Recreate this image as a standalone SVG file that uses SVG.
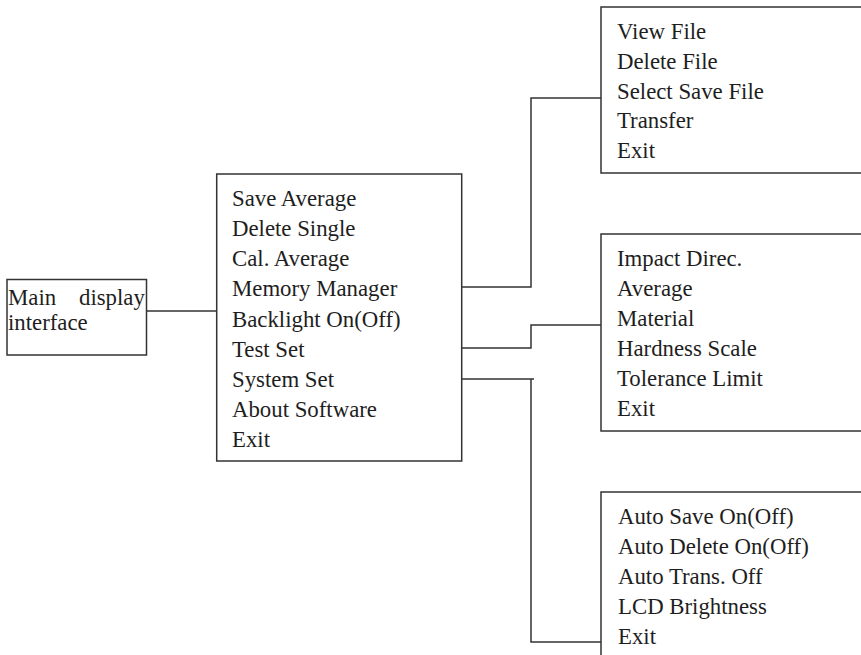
<svg xmlns="http://www.w3.org/2000/svg" width="861" height="655" viewBox="0 0 861 655">
<style>
.box{fill:#fff;stroke:#333;stroke-width:1.5}
.c{fill:none;stroke:#333;stroke-width:1.5}
text{font-family:"Liberation Serif","Times New Roman",serif;font-size:22.8px;fill:#1e1e1e}
</style>
<rect width="861" height="655" fill="#fff"/>
<g id="connectors">
<path class="c" d="M146.5 311H216.7"/>
<path class="c" d="M461.7 287H531V98H601"/>
<path class="c" d="M461.7 348H531V325H601"/>
<path class="c" d="M461.7 379H534M531 379V642H601"/>
</g>
<g id="main">
<rect class="box" x="7" y="279.5" width="139.5" height="75.5"/>
<text x="8" y="305">Main <tspan x="79">display</tspan></text>
<text x="8" y="330">interface</text>
</g>
<g id="menu">
<rect class="box" x="216.7" y="174" width="245" height="287"/>
<text x="232" y="206">Save Average</text>
<text x="232" y="236.1">Delete Single</text>
<text x="232" y="266.3">Cal. Average</text>
<text x="232" y="296.4">Memory Manager</text>
<text x="232" y="326.5">Backlight On(Off)</text>
<text x="232" y="356.6">Test Set</text>
<text x="232" y="386.8">System Set</text>
<text x="232" y="416.9">About Software</text>
<text x="232" y="447">Exit</text>
</g>
<g id="memory">
<rect class="box" x="601" y="7" width="280" height="166"/>
<text x="617" y="39">View File</text>
<text x="617" y="68.8">Delete File</text>
<text x="617" y="98.5">Select Save File</text>
<text x="617" y="128.3">Transfer</text>
<text x="617" y="158">Exit</text>
</g>
<g id="testset">
<rect class="box" x="601" y="234" width="280" height="197"/>
<text x="617" y="266">Impact Direc.</text>
<text x="617" y="296">Average</text>
<text x="617" y="326">Material</text>
<text x="617" y="356">Hardness Scale</text>
<text x="617" y="386">Tolerance Limit</text>
<text x="617" y="416">Exit</text>
</g>
<g id="systemset">
<rect class="box" x="601" y="492" width="280" height="200"/>
<text x="618" y="524">Auto Save On(Off)</text>
<text x="618" y="554">Auto Delete On(Off)</text>
<text x="618" y="584">Auto Trans. Off</text>
<text x="618" y="614">LCD Brightness</text>
<text x="618" y="644">Exit</text>
</g>
</svg>
